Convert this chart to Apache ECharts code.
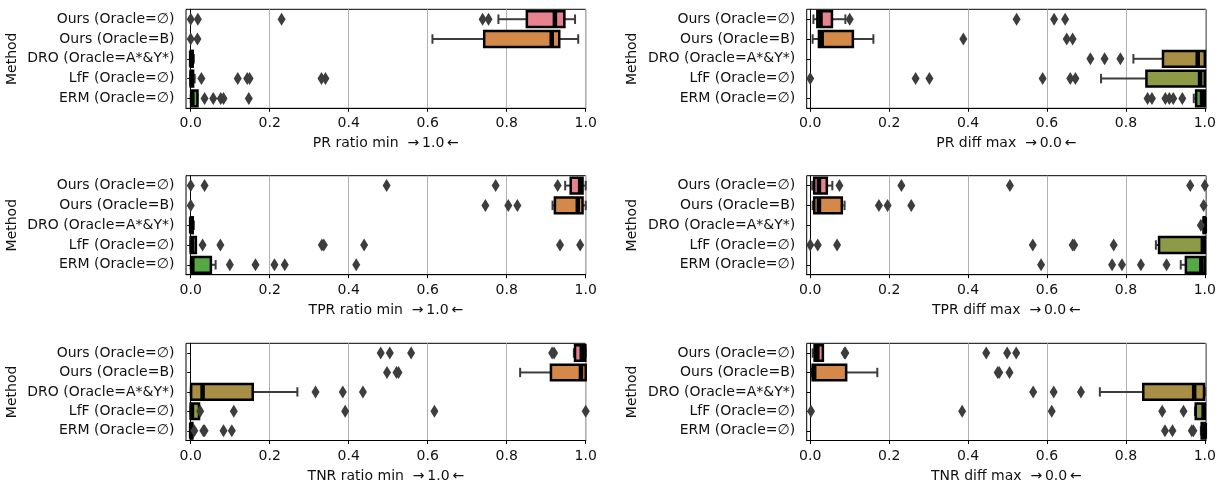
<!DOCTYPE html>
<html>
<head>
<meta charset="utf-8">
<script src="https://cdn.jsdelivr.net/npm/echarts@6/dist/echarts.min.js"></script>
<style>
  html, body { margin: 0; padding: 0; background: #fff; }
  #chart { width: 1219px; height: 484px; }
</style>
</head>
<body>
<div id="chart"></div>
<script>
// methods, top to bottom
var methods = ['Ours (Oracle=\u2205)', 'Ours (Oracle=B)', 'DRO (Oracle=A*&Y*)', 'LfF (Oracle=\u2205)', 'ERM (Oracle=\u2205)'];
var xTicks = [0, 0.2, 0.4, 0.6, 0.8, 1.0];

// box stats per method: [whisker low, q1, median, q3, whisker high]
var prRatioBox = [[0.779, 0.851, 0.922, 0.946, 0.973], [0.612, 0.743, 0.914, 0.933, 0.981], [0, 0, 0.001, 0.005, 0.008], [0, 0, 0.002, 0.006, 0.01], [0, 0.001, 0.004, 0.017, 0.017]];
var prRatioOut = [[0.0, 0.018, 0.23, 0.739, 0.754], [0.0, 0.017], [], [0.027, 0.119, 0.143, 0.149, 0.331, 0.341], [0.035, 0.057, 0.076, 0.083, 0.147]];

var prDiffBox = [[0.008, 0.018, 0.026, 0.055, 0.089], [0.006, 0.022, 0.029, 0.108, 0.160], [0.819, 0.894, 0.982, 1.0, 1.0], [0.737, 0.852, 0.988, 1.0, 1.0], [0.972, 0.978, 0.993, 1.0, 1.0]];
var prDiffOut = [[0.1, 0.523, 0.618, 0.646], [0.388, 0.650, 0.665], [0.710, 0.746, 0.786], [0.0, 0.267, 0.302, 0.589, 0.659, 0.672], [0.855, 0.866, 0.90, 0.91, 0.92, 0.943]];

var tprRatioBox = [[0.948, 0.962, 0.986, 0.992, 1.0], [0.916, 0.922, 0.980, 0.992, 1.0], [0, 0, 0.001, 0.005, 0.008], [0, 0, 0.003, 0.013, 0.013], [0, 0.001, 0.004, 0.051, 0.063]];
var tprRatioOut = [[0.0, 0.035, 0.496, 0.772, 0.929], [0.0, 0.746, 0.804, 0.827], [], [0.030, 0.075, 0.332, 0.337, 0.439, 0.935, 0.986], [0.099, 0.164, 0.212, 0.238, 0.419]];

var tprDiffBox = [[0.005, 0.01, 0.022, 0.042, 0.056], [0.006, 0.01, 0.022, 0.080, 0.087], [0.995, 0.997, 1.0, 1.0, 1.0], [0.876, 0.884, 0.995, 1.0, 1.0], [0.939, 0.952, 0.991, 1.0, 1.0]];
var tprDiffOut = [[0.074, 0.231, 0.506, 0.963, 1.0], [0.174, 0.196, 0.256, 0.997], [0.99], [0.0, 0.019, 0.068, 0.564, 0.665, 0.669, 0.769], [0.585, 0.765, 0.790, 0.838, 0.903]];

var tnrRatioBox = [[0.97, 0.973, 0.99, 0.999, 1.0], [0.834, 0.912, 0.988, 1.0, 1.0], [0, 0.001, 0.030, 0.157, 0.270], [0, 0, 0.003, 0.021, 0.021], [0, 0, 0.001, 0.004, 0.006]];
var tnrRatioOut = [[0.481, 0.504, 0.558, 0.915, 0.92], [0.497, 0.521, 0.526], [0.316, 0.385, 0.436], [0.024, 0.109, 0.391, 0.617, 1.0], [0.009, 0.032, 0.035, 0.083, 0.104]];

var tnrDiffBox = [[0.006, 0.011, 0.018, 0.032, 0.032], [0.004, 0.006, 0.01, 0.091, 0.170], [0.734, 0.844, 0.973, 0.998, 1.0], [0.975, 0.977, 0.997, 1.0, 1.0], [0.99, 0.992, 1.0, 1.0, 1.0]];
var tnrDiffOut = [[0.087, 0.089, 0.446, 0.499, 0.522], [0.475, 0.479, 0.505], [0.565, 0.617, 0.686], [0.002, 0.385, 0.612, 0.892, 0.946], [0.899, 0.918, 0.967, 0.971]];

var panels = [
  {name: 'PR ratio min  \u2192\u20091.0\u2009\u2190', box: prRatioBox, out: prRatioOut, col: 0, row: 0},
  {name: 'PR diff max  \u2192\u20090.0\u2009\u2190', box: prDiffBox, out: prDiffOut, col: 1, row: 0},
  {name: 'TPR ratio min  \u2192\u20091.0\u2009\u2190', box: tprRatioBox, out: tprRatioOut, col: 0, row: 1},
  {name: 'TPR diff max  \u2192\u20090.0\u2009\u2190', box: tprDiffBox, out: tprDiffOut, col: 1, row: 1},
  {name: 'TNR ratio min  \u2192\u20091.0\u2009\u2190', box: tnrRatioBox, out: tnrRatioOut, col: 0, row: 2},
  {name: 'TNR diff max  \u2192\u20090.0\u2009\u2190', box: tnrDiffBox, out: tnrDiffOut, col: 1, row: 2}
];

var colors = ['#e7828f', '#d4894b', '#a98f45', '#8e9b46', '#56a845'];
var font = 'DejaVu Sans';
var fs = 14;
var colLeft = [186, 806.7], colWidth = [399.7, 399.3];
var colMin = [-0.012, -0.009], colMax = [1.0, 1.003];
var rowTop = [9.3, 175.7, 343.3], rowH = 99;

// seaborn-like horizontal box: whiskers + caps, filled box, thick median
function renderBox(params, api) {
  var idx = api.value(0);
  var band = api.size([0, 1])[1];
  var h = band * 0.8, cap = h * 0.3;
  var yc = api.coord([0, idx])[1];
  var xs = [1, 2, 3, 4, 5].map(function (d) { return api.coord([api.value(d), idx])[0]; });
  var wc = '#3d3d3d';
  return {
    type: 'group',
    children: [
      {type: 'line', shape: {x1: xs[0], y1: yc, x2: xs[1], y2: yc}, style: {stroke: wc, lineWidth: 2}},
      {type: 'line', shape: {x1: xs[3], y1: yc, x2: xs[4], y2: yc}, style: {stroke: wc, lineWidth: 2}},
      {type: 'line', shape: {x1: xs[0], y1: yc - cap, x2: xs[0], y2: yc + cap}, style: {stroke: wc, lineWidth: 2}},
      {type: 'line', shape: {x1: xs[4], y1: yc - cap, x2: xs[4], y2: yc + cap}, style: {stroke: wc, lineWidth: 2}},
      {type: 'rect', shape: {x: xs[1], y: yc - h / 2, width: xs[3] - xs[1], height: h}, style: {fill: colors[idx], stroke: '#000', lineWidth: 2.5}},
      {type: 'line', shape: {x1: xs[2], y1: yc - h / 2, x2: xs[2], y2: yc + h / 2}, style: {stroke: '#000', lineWidth: 4.5}}
    ]
  };
}

var grids = [], xAxes = [], yAxes = [], series = [];
panels.forEach(function (p, i) {
  grids.push({left: colLeft[p.col], width: colWidth[p.col], top: rowTop[p.row], height: rowH,
    show: true, borderColor: '#000', borderWidth: 1, backgroundColor: 'transparent'});
  xAxes.push({
    gridIndex: i, type: 'value', min: colMin[p.col], max: colMax[p.col],
    axisLine: {show: true, onZero: false, lineStyle: {color: '#000', width: 1}},
    axisTick: {show: true, length: 3.5, lineStyle: {color: '#000'}, customValues: xTicks},
    axisLabel: {customValues: xTicks, formatter: function (v) { return (+v).toFixed(1); },
      fontSize: fs, color: '#111', fontFamily: font, margin: 8.5},
    splitLine: {show: true, lineStyle: {color: '#b0b0b0', width: 1}},
    name: p.name, nameLocation: 'middle', nameGap: 28.5,
    nameTextStyle: {fontSize: fs, color: '#111', fontFamily: font}
  });
  yAxes.push({
    gridIndex: i, type: 'category', data: methods, inverse: true,
    axisLine: {show: true, lineStyle: {color: '#000', width: 1}},
    axisTick: {show: true, alignWithLabel: true, length: 3.5, lineStyle: {color: '#000'}},
    axisLabel: {fontSize: fs, color: '#111', fontFamily: font, margin: 11.5},
    splitLine: {show: false},
    name: 'Method', nameLocation: 'middle', nameGap: 167,
    nameTextStyle: {fontSize: fs, color: '#111', fontFamily: font}
  });
  var boxData = p.box.map(function (b, k) { return [k].concat(b); });
  series.push({
    type: 'custom', xAxisIndex: i, yAxisIndex: i, renderItem: renderBox, clip: false,
    encode: {x: [1, 2, 3, 4, 5], y: 0}, data: boxData, silent: true
  });
  var outData = [];
  p.out.forEach(function (arr, k) { arr.forEach(function (v) { outData.push([v, k]); }); });
  series.push({
    type: 'scatter', xAxisIndex: i, yAxisIndex: i, data: outData, clip: false,
    symbol: 'diamond', symbolSize: [8, 13], itemStyle: {color: '#3d3d3d', opacity: 1}, silent: true, z: 5
  });
});

var myChart = echarts.init(document.getElementById('chart'));
myChart.setOption({
  animation: false,
  backgroundColor: '#fff',
  textStyle: {fontFamily: font},
  grid: grids, xAxis: xAxes, yAxis: yAxes, series: series
});
</script>
</body>
</html>
